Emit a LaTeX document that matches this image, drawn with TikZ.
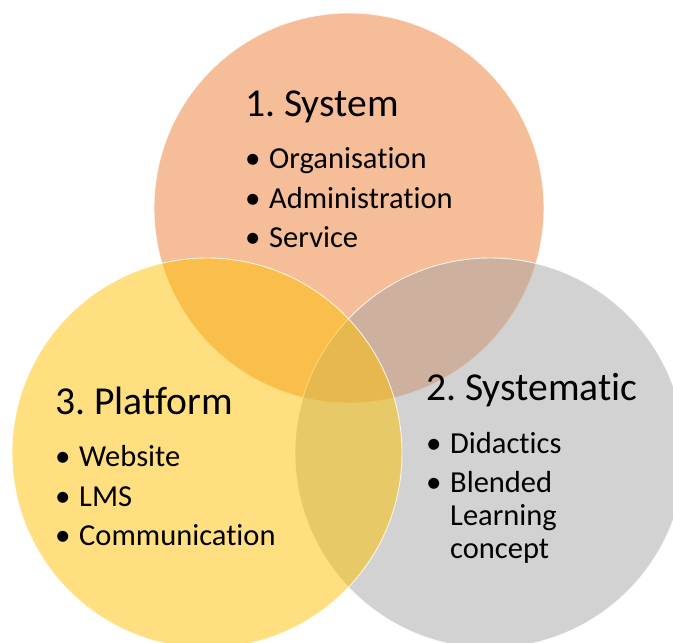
\documentclass[tikz,border=0pt]{standalone}
\usepackage{fontspec}
\setmainfont{Carlito}[RawFeature={-liga}]
\definecolor{vorange}{HTML}{ED7D31}
\definecolor{vgray}{HTML}{A5A5A5}
\definecolor{vyellow}{HTML}{FFC000}
\frenchspacing
\begin{document}
\begin{tikzpicture}[x=1pt,y=-1pt,
  venn/.style={circle,minimum size=390pt,inner sep=0pt,fill opacity=0.5,
    draw=white,draw opacity=0.8,line width=0.9pt},
  heading/.style={anchor=base west,inner sep=0pt,font=\fontsize{39.6}{46}\selectfont},
  entry/.style={anchor=base west,inner sep=0pt,font=\fontsize{30.5}{33}\selectfont},
  bulletmark/.style={anchor=base west,inner sep=0pt,font=\fontsize{31}{33}\selectfont}
]
\useasboundingbox (0,0) rectangle (673,643);
% the three sets, back to front
\node[venn,fill=vorange] (system) at (349,208) {};
\node[venn,fill=vgray] (systematic) at (490,453) {};
\node[venn,fill=vyellow] (platform) at (207,453) {};

% 1. System
\node[heading] (t1) at (245,116) {1. System};
\node[bulletmark] (b11) at (245,168) {•};
\node[entry] (i11) at (269,168) {Organisation};
\node[bulletmark] (b12) at (245,208) {•};
\node[entry] (i12) at (269,208) {Administration};
\node[bulletmark] (b13) at (245,247) {•};
\node[entry] (i13) at (269,247) {Service};

% 2. Systematic
\node[heading] (t2) at (426,400) {2. Systematic};
\node[bulletmark] (b21) at (426,453) {•};
\node[entry] (i21) at (450,453) {Didactics};
\node[bulletmark] (b22) at (426,492) {•};
\node[entry] (i22) at (450,492) {Blended};
\node[entry] (i23) at (450,525) {Learning};
\node[entry] (i24) at (450,558) {concept};

% 3. Platform
\node[heading] (t3) at (55,414) {3. Platform};
\node[bulletmark] (b31) at (55,466) {•};
\node[entry] (i31) at (79,466) {Website};
\node[bulletmark] (b32) at (55,506) {•};
\node[entry] (i32) at (79,506) {LMS};
\node[bulletmark] (b33) at (55,545) {•};
\node[entry] (i33) at (79,545) {Communication};
\end{tikzpicture}
\end{document}
